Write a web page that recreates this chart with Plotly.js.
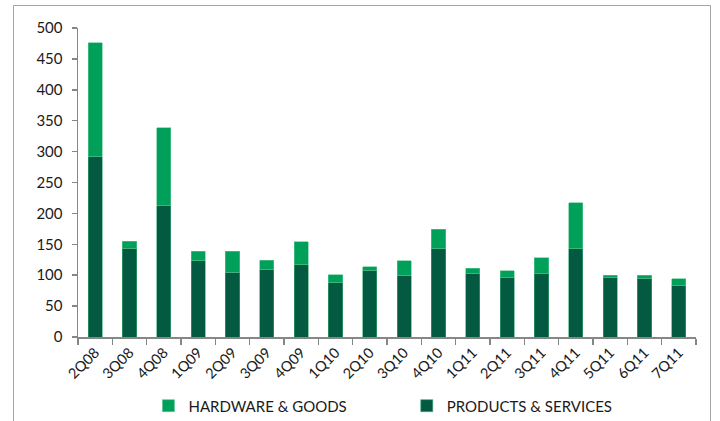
<!DOCTYPE html>
<html>
<head>
<meta charset="utf-8">
<script src="https://cdn.plot.ly/plotly-3.0.1.min.js"></script>
<style>
html,body{margin:0;padding:0;background:#fff;overflow:hidden;}
#frame{position:absolute;left:13px;top:5px;width:698px;height:430px;border-left:1.5px solid #a6a6a6;border-top:1.5px solid #a6a6a6;border-right:1.5px solid #a6a6a6;box-sizing:border-box;pointer-events:none;z-index:2;}
#chart{position:absolute;left:0;top:0;width:720px;height:421px;}
</style>
</head>
<body>
<div id="chart"></div>
<div id="frame"></div>
<script>
const quarters = ["2Q08","3Q08","4Q08","1Q09","2Q09","3Q09","4Q09","1Q10","2Q10","3Q10","4Q10","1Q11","2Q11","3Q11","4Q11","5Q11","6Q11","7Q11"];
const productsServices = [292,144,212,123,105,110,117,88,108,99,143,103,97,103,143,97,95,83];
const hardwareGoods = [184,11,127,16,34,14,37,13,6,24,31,8,10,25,74,3,5,11];
const yTicks = [0,50,100,150,200,250,300,350,400,450,500];

const traces = [
  {type:'bar', name:'PRODUCTS & SERVICES', x:quarters, y:productsServices, legend:'legend2',
   marker:{color:'#035A40', line:{color:'#3aa874', width:0.6}}},
  {type:'bar', name:'HARDWARE & GOODS', x:quarters, y:hardwareGoods, legend:'legend',
   marker:{color:'#00A05A', line:{color:'#5cc68f', width:0.6}}}
];

const legendFont = {size:15, color:'#1a1a1a'};
const layout = {
  width:720, height:421,
  margin:{l:78, r:24, t:28, b:84, pad:0, autoexpand:false},
  paper_bgcolor:'#ffffff', plot_bgcolor:'#ffffff',
  barmode:'stack', bargap:0.59,
  font:{family:'Lato, "Open Sans", sans-serif', size:15, color:'#1a1a1a'},
  showlegend:true,
  legend:{orientation:'h', x:0.114, xanchor:'left', y:-0.223, yanchor:'middle',
          font:legendFont, itemwidth:30, bgcolor:'rgba(0,0,0,0)'},
  legend2:{orientation:'h', x:0.532, xanchor:'left', y:-0.223, yanchor:'middle',
          font:legendFont, itemwidth:30, bgcolor:'rgba(0,0,0,0)'},
  xaxis:{type:'category', tickangle:-45, showline:true, linecolor:'#868686', linewidth:1.5,
         ticks:'outside', tickson:'boundaries', ticklen:6, tickcolor:'#868686', tickwidth:1.5,
         showgrid:false, zeroline:false, tickfont:{size:14.5}},
  yaxis:{range:[0,500], tickvals:yTicks, showline:true, linecolor:'#868686', linewidth:1.5,
         ticks:'outside', ticklen:5, tickcolor:'#868686', tickwidth:1.5,
         showgrid:false, zeroline:false, tickfont:{size:15}, ticklabelstandoff:6}
};

Plotly.newPlot('chart', traces, layout, {displayModeBar:false, staticPlot:true});
</script>
</body>
</html>
